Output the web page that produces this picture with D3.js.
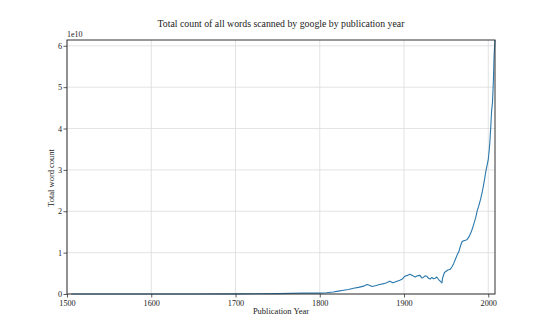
<!DOCTYPE html>
<html>
<head>
<meta charset="utf-8">
<script src="https://cdn.jsdelivr.net/npm/d3@7"></script>
<style>
  html, body { margin: 0; padding: 0; background: #fff; }
  svg { display: block; }
  text { font-family: "Liberation Serif", "DejaVu Serif", serif; fill: #222; }
</style>
</head>
<body>
<svg id="chart" width="550" height="330"></svg>
<script>
// Publication year of scanned books
const years = [
  1505, 1550, 1600, 1650, 1700, 1750, 1780,
  1800, 1808, 1816, 1822, 1828, 1834, 1840, 1846, 1852, 1856, 1859, 1862, 1866,
  1871, 1876, 1880, 1883, 1887, 1891, 1895, 1898, 1901, 1904, 1907, 1910, 1913,
  1916, 1919, 1921, 1923, 1925, 1927, 1929, 1931, 1933, 1935, 1937, 1939, 1941,
  1943, 1945, 1946, 1948, 1950, 1952, 1955, 1957, 1959, 1961, 1963, 1965, 1967,
  1969, 1971, 1973, 1975, 1977, 1979, 1981, 1983, 1985, 1987, 1989, 1991, 1993,
  1995, 1997, 1999, 2000, 2001, 2002, 2003, 2004, 2005, 2006, 2007, 2008
];

// Total word count per year (units of 1e10 words)
const wordCounts = [
  0.00003, 0.0001, 0.0006, 0.0015, 0.003, 0.01, 0.02,
  0.02, 0.03, 0.05, 0.07, 0.09, 0.11, 0.14, 0.16, 0.19, 0.23, 0.21, 0.18, 0.20,
  0.23, 0.25, 0.28, 0.31, 0.27, 0.30, 0.33, 0.36, 0.43, 0.45, 0.48, 0.45, 0.41,
  0.44, 0.45, 0.39, 0.40, 0.44, 0.43, 0.38, 0.36, 0.40, 0.37, 0.38, 0.41, 0.35,
  0.31, 0.27, 0.40, 0.52, 0.55, 0.58, 0.60, 0.66, 0.74, 0.84, 0.94, 1.02, 1.16,
  1.27, 1.29, 1.30, 1.32, 1.38, 1.46, 1.57, 1.70, 1.84, 2.02, 2.15, 2.30, 2.48,
  2.70, 2.95, 3.15, 3.25, 3.45, 3.70, 4.05, 4.44, 4.62, 5.10, 5.80, 6.14
];

const xTicks = [1500, 1600, 1700, 1800, 1900, 2000];
const yTicks = [0, 1, 2, 3, 4, 5, 6];

const title = "Total count of all words scanned by google by publication year";
const xLabel = "Publication Year";
const yLabel = "Total word count";
const offsetLabel = "1e10";

const svg = d3.select("#chart");
const m = { left: 67, right: 495, top: 40, bottom: 294 };

const data = years.map((y, i) => ({ year: y, count: wordCounts[i] }));

const x = d3.scaleLinear().domain([1500, 2008]).range([m.left, m.right]);
const y = d3.scaleLinear().domain([0, d3.max(wordCounts)]).range([m.bottom, m.top]);

// grid
const grid = svg.append("g");
grid.selectAll("line.vx").data(xTicks).join("line")
  .attr("x1", d => x(d)).attr("x2", d => x(d))
  .attr("y1", m.top).attr("y2", m.bottom)
  .attr("stroke", "#dcdcdc").attr("stroke-width", 0.8);
grid.selectAll("line.hy").data(yTicks).join("line")
  .attr("x1", m.left).attr("x2", m.right)
  .attr("y1", d => y(d)).attr("y2", d => y(d))
  .attr("stroke", "#dcdcdc").attr("stroke-width", 0.8);

// series line
const line = d3.line().x(d => x(d.year)).y(d => y(d.count));
svg.append("path").datum(data)
  .attr("d", line)
  .attr("fill", "none")
  .attr("stroke", "#2a78ad")
  .attr("stroke-width", 1.1)
  .attr("stroke-linejoin", "round");

// axes
const xAxis = d3.axisBottom(x).tickValues(xTicks).tickSize(3.5).tickPadding(2.5).tickFormat(d3.format("d"));
const yAxis = d3.axisLeft(y).tickValues(yTicks).tickSize(3.5).tickPadding(1.5).tickFormat(d3.format("d"));

const gx = svg.append("g").attr("transform", `translate(0,${m.bottom})`).call(xAxis);
const gy = svg.append("g").attr("transform", `translate(${m.left},0)`).call(yAxis);
[gx, gy].forEach(g => {
  g.select(".domain").remove();
  g.selectAll(".tick line").attr("stroke", "#333").attr("stroke-width", 0.8);
  g.selectAll(".tick text").attr("font-size", 8.2).attr("fill", "#222")
    .style("font-family", "'Liberation Serif', serif");
});

// frame
svg.append("rect")
  .attr("x", m.left).attr("y", m.top)
  .attr("width", m.right - m.left).attr("height", m.bottom - m.top)
  .attr("fill", "none").attr("stroke", "#333").attr("stroke-width", 1);

// texts
svg.append("text").attr("x", (m.left + m.right) / 2).attr("y", 27)
  .attr("text-anchor", "middle").attr("font-size", 9.8).text(title);
svg.append("text").attr("x", (m.left + m.right) / 2).attr("y", 314)
  .attr("text-anchor", "middle").attr("font-size", 8.5).text(xLabel);
svg.append("text")
  .attr("transform", `translate(54,178) rotate(-90)`)
  .attr("text-anchor", "middle").attr("font-size", 8.5).text(yLabel);
svg.append("text").attr("x", m.left).attr("y", 37)
  .attr("font-size", 8).text(offsetLabel);
</script>
</body>
</html>
